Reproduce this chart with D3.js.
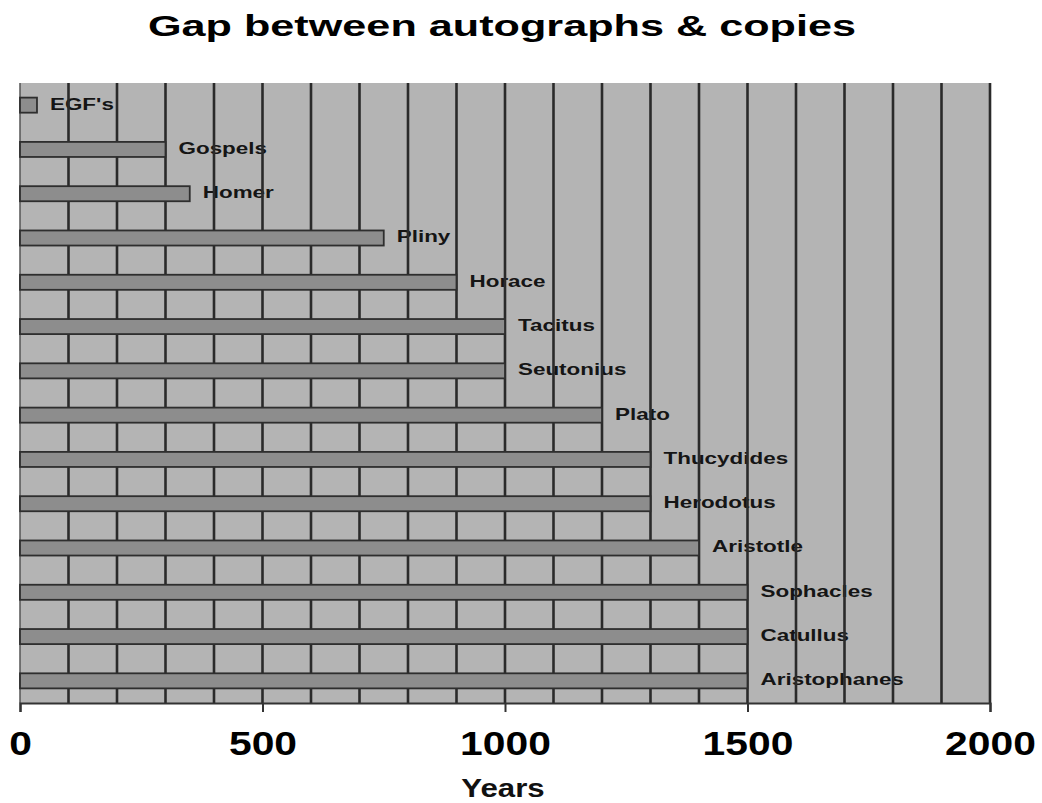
<!DOCTYPE html>
<html><head><meta charset="utf-8">
<script src="https://cdn.jsdelivr.net/npm/d3@7"></script>
<style>body{margin:0;background:#fff}svg{display:block}</style>
</head><body>
<svg id="chart" width="1042" height="803"></svg>
<script>
const categories = ["EGF's","Gospels","Homer","Pliny","Horace","Tacitus","Seutonius","Plato","Thucydides","Herodotus","Aristotle","Sophacles","Catullus","Aristophanes"];
const values = [35,300,350,750,900,1000,1000,1200,1300,1300,1400,1500,1500,1500];
const tickValues = [0,500,1000,1500,2000];
const gridValues = d3.range(100, 2001, 100);
const title = "Gap between autographs & copies";
const xTitle = "Years";

const svg = d3.select("#chart");
const pLeft = 20, pRight = 990, pTop = 83, pBottom = 703;
const x = d3.scaleLinear().domain([0, 2000]).range([pLeft, pRight]);
const y = d3.scaleBand().domain(categories).range([pTop, pBottom]).paddingInner(0.66).paddingOuter(0.33);

function stretch(sel, sx){
  sel.each(function(){
    const t = d3.select(this);
    const ax = +t.attr("x"), ay = +t.attr("y");
    t.attr("transform", `translate(${ax},${ay}) scale(${sx},1) translate(${-ax},${-ay})`);
  });
}

// background
svg.append("rect").attr("x", pLeft).attr("y", pTop).attr("width", pRight-pLeft).attr("height", pBottom-pTop)
  .attr("fill", "#b4b4b4");

// category labels (under grid lines)
const data = categories.map((c,i)=>({c, v: values[i]}));
const labels = svg.append("g").selectAll("text").data(data).join("text")
  .attr("x", d => x(d.v) + 13)
  .attr("y", d => y(d.c) + y.bandwidth()/2 + 4.5)
  .attr("font-family", "Liberation Sans, Arial, sans-serif")
  .attr("font-weight", "bold").attr("font-size", 16.5).attr("fill", "#151515")
  .text(d => d.c);
stretch(labels, 1.36);

// left edge line
svg.append("line").attr("x1", x(0)).attr("x2", x(0)).attr("y1", pTop).attr("y2", pBottom)
  .attr("stroke", "#555").attr("stroke-width", 1.5);

// grid lines
svg.append("g").selectAll("line").data(gridValues).join("line")
  .attr("x1", d => x(d)).attr("x2", d => x(d)).attr("y1", pTop).attr("y2", pBottom)
  .attr("stroke", "#2a2a2a").attr("stroke-width", 2.6);

// bars
svg.append("g").selectAll("rect").data(data).join("rect")
  .attr("x", x(0)).attr("y", d => y(d.c))
  .attr("width", d => x(d.v) - x(0)).attr("height", y.bandwidth())
  .attr("fill", "#8d8d8d").attr("stroke", "#2e2e2e").attr("stroke-width", 1.8);

// x axis
const axis = svg.append("g").attr("transform", `translate(0,${pBottom})`)
  .call(d3.axisBottom(x).tickValues(tickValues).tickSize(9).tickFormat(d3.format("d")));
axis.select(".domain").attr("stroke", "#333").attr("stroke-width", 2.2);
axis.selectAll(".tick line").attr("stroke", "#333").attr("stroke-width", 2);
axis.selectAll(".tick text").attr("y", 0).attr("dy", 0)
  .attr("font-family", "Liberation Sans, Arial, sans-serif").attr("font-weight", "bold")
  .attr("font-size", 34).attr("fill", "#000").attr("text-anchor", "middle")
  .attr("transform", "translate(0,52) scale(1.2,1)");

// title
const t = svg.append("text").attr("x", 502).attr("y", 36).attr("text-anchor", "middle")
  .attr("font-family", "Liberation Sans, Arial, sans-serif").attr("font-weight", "bold")
  .attr("font-size", 30).attr("fill", "#000").text(title);
stretch(t, 1.44);

// x title
const xt = svg.append("text").attr("x", 503).attr("y", 797).attr("text-anchor", "middle")
  .attr("font-family", "Liberation Sans, Arial, sans-serif").attr("font-weight", "bold")
  .attr("font-size", 26).attr("fill", "#111").text(xTitle);
stretch(xt, 1.2);
</script>
</body></html>
